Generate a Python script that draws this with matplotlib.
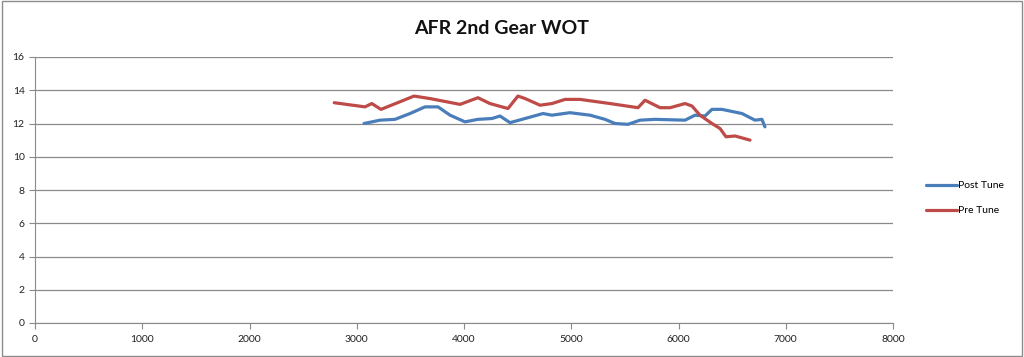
import matplotlib
matplotlib.use("Agg")
import matplotlib.pyplot as plt
from matplotlib.patches import Rectangle

title = "AFR 2nd Gear WOT"

post_rpm = [3068, 3217, 3357, 3497, 3636, 3758, 3870, 4009, 4130, 4261, 4336, 4429,
            4569, 4737, 4820, 4988, 5175, 5315, 5408, 5529, 5641, 5781, 6061, 6154,
            6247, 6312, 6405, 6592, 6713, 6778, 6806]
post_afr = [12.0, 12.2, 12.25, 12.6, 13.0, 13.0, 12.5, 12.1, 12.25, 12.3, 12.45, 12.05,
            12.3, 12.6, 12.5, 12.65, 12.5, 12.25, 12.0, 11.95, 12.2, 12.25, 12.2, 12.5,
            12.45, 12.85, 12.85, 12.6, 12.2, 12.25, 11.8]

pre_rpm = [2790, 3077, 3140, 3226, 3400, 3534, 3683, 3963, 4130, 4242, 4410, 4503,
           4570, 4709, 4820, 4942, 5082, 5361, 5622, 5688, 5828, 5921, 6061, 6126,
           6200, 6312, 6387, 6443, 6527, 6667]
pre_afr = [13.25, 13.0, 13.2, 12.85, 13.3, 13.65, 13.5, 13.15, 13.55, 13.2, 12.9, 13.65,
           13.5, 13.1, 13.2, 13.45, 13.45, 13.2, 12.95, 13.4, 12.95, 12.95, 13.2, 13.05,
           12.5, 12.0, 11.7, 11.2, 11.25, 11.0]

x_ticks = [0, 1000, 2000, 3000, 4000, 5000, 6000, 7000, 8000]
y_ticks = [0, 2, 4, 6, 8, 10, 12, 14, 16]

plt.rcParams['font.family'] = ['Lato', 'DejaVu Sans']

fig = plt.figure(figsize=(10.24, 3.57), dpi=100)
fig.patches.append(Rectangle((0.002, 0.003), 0.996, 0.994, transform=fig.transFigure,
                             fill=False, edgecolor='#8c8c8c', linewidth=1.0))
ax = fig.add_axes([35/1024, 1-323/357, (893-35)/1024, (323-57)/357])

ax.plot(post_rpm, post_afr, color='#4A7EBB', lw=2.3, label='Post Tune', solid_joinstyle='round', solid_capstyle='round')
ax.plot(pre_rpm, pre_afr, color='#BE4B48', lw=2.3, label='Pre Tune', solid_joinstyle='round', solid_capstyle='round')

ax.set_xlim(0, 8000)
ax.set_ylim(0, 16)
ax.set_xticks(x_ticks)
ax.set_yticks(y_ticks)
ax.grid(axis='y', color='#8a8a8a', lw=0.9)
ax.set_axisbelow(True)
for s in ['top', 'right']:
    ax.spines[s].set_visible(False)
ax.spines['left'].set_color('#8a8a8a')
ax.spines['bottom'].set_color('#8a8a8a')
ax.tick_params(direction='out', length=4, color='#8a8a8a', labelsize=7.5, labelcolor='#222222')
ax.tick_params(axis='x', pad=5)

fig.text(0.49, 0.92, title, ha='center', va='center', fontsize=14, fontweight='bold', color='#111111')

leg = fig.legend(loc='center left', bbox_to_anchor=(0.895, 0.445), frameon=False, fontsize=7.5,
                 handlelength=3, labelspacing=1.5, handletextpad=0.1)

fig.savefig('out.png', dpi=100)
